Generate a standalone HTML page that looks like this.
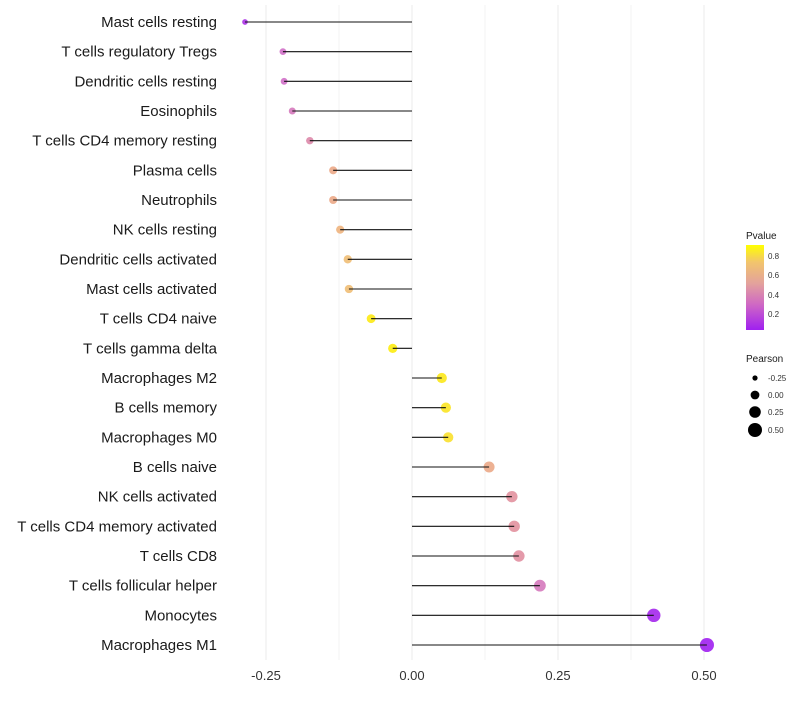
<!DOCTYPE html>
<html><head><meta charset="utf-8"><style>
body{margin:0;background:#fff;}
svg{font-family:"Liberation Sans",sans-serif;}
</style></head><body>
<svg id="c" width="800" height="700">
<defs><linearGradient id="pg" x1="0" y1="1" x2="0" y2="0">
<stop offset="0" stop-color="#A020F0"/><stop offset="0.3" stop-color="#CF68C4"/><stop offset="0.55" stop-color="#E3A29C"/><stop offset="0.8" stop-color="#F2C56C"/><stop offset="1" stop-color="#FFFF00"/>
</linearGradient></defs>
<g id="grid"></g><g id="pts"></g><g id="marks"></g><g id="labels"></g><g id="xt"></g>
<g>
<text x="746" y="239" font-size="10" fill="#1a1a1a">Pvalue</text>
<rect x="746" y="245" width="18" height="85" fill="url(#pg)"/>
<text x="768" y="259" font-size="8" fill="#333">0.8</text>
<text x="768" y="278" font-size="8" fill="#333">0.6</text>
<text x="768" y="298" font-size="8" fill="#333">0.4</text>
<text x="768" y="317" font-size="8" fill="#333">0.2</text>
</g>
<g>
<text x="746" y="362" font-size="10" fill="#1a1a1a">Pearson</text>
<circle cx="755" cy="378" r="2.6" fill="#000"/><text x="768" y="381" font-size="8" fill="#333">-0.25</text>
<circle cx="755" cy="395" r="4.4" fill="#000"/><text x="768" y="398" font-size="8" fill="#333">0.00</text>
<circle cx="755" cy="412" r="5.8" fill="#000"/><text x="768" y="415" font-size="8" fill="#333">0.25</text>
<circle cx="755" cy="430" r="7" fill="#000"/><text x="768" y="433" font-size="8" fill="#333">0.50</text>
</g>
</svg>
<script>
const categories=["Mast cells resting","T cells regulatory  Tregs ","Dendritic cells resting","Eosinophils","T cells CD4 memory resting","Plasma cells","Neutrophils","NK cells resting","Dendritic cells activated","Mast cells activated","T cells CD4 naive","T cells gamma delta","Macrophages M2","B cells memory","Macrophages M0","B cells naive","NK cells activated","T cells CD4 memory activated","T cells CD8","T cells follicular helper","Monocytes","Macrophages M1"];
const pearson=[-0.286,-0.221,-0.219,-0.205,-0.175,-0.135,-0.135,-0.123,-0.110,-0.108,-0.070,-0.033,0.051,0.058,0.062,0.132,0.171,0.175,0.183,0.219,0.414,0.505];
const pvalue=[0.08,0.25,0.25,0.3,0.38,0.55,0.55,0.6,0.65,0.65,0.87,0.88,0.86,0.84,0.82,0.55,0.43,0.43,0.42,0.3,0.05,0.03];
const xticks=[-0.25,0,0.25,0.5];
const xtickLabels=["-0.25","0.00","0.25","0.50"];
const NS="http://www.w3.org/2000/svg";
const x=v=>412+v*584;
const y=i=>22+i*(623/21);
function mk(t,a,p){const e=document.createElementNS(NS,t);for(const k in a)e.setAttribute(k,a[k]);p.appendChild(e);return e;}
const stops=[[0,[160,32,240]],[0.25,[208,112,200]],[0.45,[226,144,160]],[0.6,[236,171,133]],[0.75,[242,198,112]],[1,[255,242,0]]];
function col(p){let t=(p-0.03)/(0.91-0.03);t=Math.max(0,Math.min(1,t));for(let i=1;i<stops.length;i++){if(t<=stops[i][0]){const a=stops[i-1],b=stops[i],f=(t-a[0])/(b[0]-a[0]);return "rgb("+a[1].map((c,j)=>Math.round(c+(b[1][j]-c)*f)).join(",")+")";}}return "rgb(255,242,0)";}
function rad(v){return Math.sqrt(Math.max(2.2,11.5+(v+0.22)*52.9));}
const g=document.getElementById("grid");
[-0.25,-0.125,0,0.125,0.25,0.375,0.5].forEach(v=>{const l=mk("line",{x1:x(v),x2:x(v),y1:5,y2:660,stroke:"#ebebeb","stroke-width":v%0.25===0?1:0.6},g);

});
const m=document.getElementById("marks"),lb=document.getElementById("labels"),pg=document.getElementById("pts");
categories.forEach((c,i)=>{
const d=mk("circle",{cx:x(pearson[i]),cy:y(i),r:rad(pearson[i]),fill:col(pvalue[i]),"fill-opacity":0.9},pg);


const l=mk("line",{x1:x(0),x2:x(pearson[i]),y1:y(i),y2:y(i),stroke:"#111","stroke-width":1.1},m);


const t=mk("text",{x:217,y:y(i)+5,"text-anchor":"end","font-size":15,fill:"#1a1a1a"},lb);t.textContent=c;


});
const xt=document.getElementById("xt");
xticks.forEach((v,i)=>{const t=mk("text",{x:x(v),y:680,"text-anchor":"middle","font-size":13,fill:"#333"},xt);t.textContent=xtickLabels[i];

});
</script>
</body></html>
